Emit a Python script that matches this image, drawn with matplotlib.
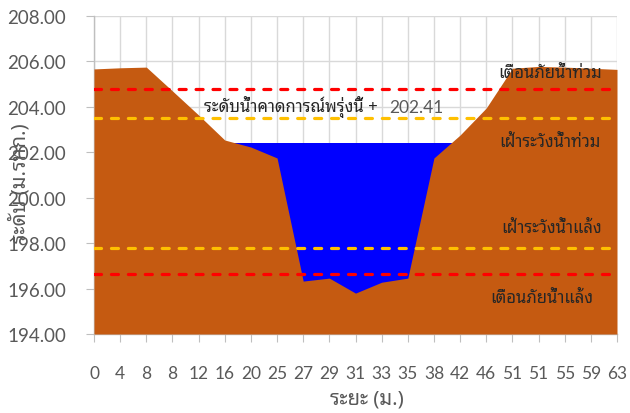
import matplotlib
matplotlib.use('Agg')
import matplotlib.pyplot as plt
import numpy as np

THAI = ['Noto Sans Thai Looped', 'Loma', 'DejaVu Sans']
NUM = ['Lato', 'DejaVu Sans']

# cross-section data (distance labels and ground elevation, m MSL)
distance_labels = ["0", "4", "8", "8", "12", "16", "20", "25", "27", "29", "31",
                   "33", "35", "38", "42", "46", "51", "51", "55", "59", "63"]
ground_level = [205.67, 205.72, 205.75, 204.70, 203.64, 202.54, 202.23, 201.75,
                196.33, 196.46, 195.80, 196.28, 196.46, 201.75, 202.76, 203.95,
                205.70, 205.78, 205.75, 205.70, 205.65]
forecast_level = 202.41

flood_warning = 204.80
flood_watch = 203.52
drought_watch = 197.80
drought_warning = 196.63

x = np.arange(len(distance_labels))

W, H = 630, 414
fig, ax = plt.subplots(figsize=(6.3, 4.14), dpi=100)
fig.subplots_adjust(left=94/W, right=617/W, top=1-17/H, bottom=1-335/H)

ax.fill_between(x, 194, forecast_level, color="#0000FF", lw=0, zorder=2)
ax.fill_between(x, 194, ground_level, color="#C55A11", lw=0, zorder=3)

dash = dict(lw=2.3, dashes=(2.2, 3.1), dash_capstyle='round', zorder=4)
ax.plot([x[0], x[-1]], [flood_warning] * 2, color="#FF0000", **dash)
ax.plot([x[0], x[-1]], [flood_watch] * 2, color="#FFC000", **dash)
ax.plot([x[0], x[-1]], [drought_watch] * 2, color="#FFC000", **dash)
ax.plot([x[0], x[-1]], [drought_warning] * 2, color="#FF0000", **dash)

tcol = "#262626"
ax.text(17.44, 205.50, "เตือนภัยน้ำท่วม", ha='center', va='center', fontsize=12,
        color=tcol, family=THAI, zorder=5)
ax.text(17.44, 202.45, "เฝ้าระวังน้ำท่วม", ha='center', va='center', fontsize=12,
        color=tcol, family=THAI, zorder=5)
ax.text(17.5, 198.66, "เฝ้าระวังน้ำแล้ง", ha='center', va='center', fontsize=12,
        color=tcol, family=THAI, zorder=5)
ax.text(17.13, 195.58, "เตือนภัยน้ำแล้ง", ha='center', va='center', fontsize=12,
        color=tcol, family=THAI, zorder=5)
ax.text(4.2, 204.05, "ระดับน้ำคาดการณ์พรุ่งนี้ + ", ha='left', va='center', fontsize=12,
        color=tcol, family=THAI, zorder=5)
ax.text(11.3, 203.98, f"{forecast_level:.2f}", ha='left', va='center', fontsize=12.5,
        color="#595959", family=NUM, zorder=5)

ax.set_xlim(0, len(x) - 1)
ax.set_ylim(194, 208)
ax.set_xticks(x)
ax.set_xticklabels(distance_labels, family=NUM, fontsize=12.5, color="#595959")
yt = np.arange(194, 209, 2)
ax.set_yticks(yt)
ax.set_yticklabels([f"{v:.2f}" for v in yt], family=NUM, fontsize=13.5, color="#595959")
ax.tick_params(axis='both', length=6, width=0.8, color="#BFBFBF")
ax.tick_params(axis='x', pad=16)
ax.tick_params(axis='y', pad=14)

ax.grid(True, color="#D9D9D9", lw=1.0, zorder=0)
ax.set_axisbelow(True)
for s in ['top', 'right']:
    ax.spines[s].set_visible(False)
for s in ['left', 'bottom']:
    ax.spines[s].set_color("#BFBFBF")
    ax.spines[s].set_linewidth(1.0)

fig.text(367/W, 1-400/H, "ระยะ (ม.)", family=THAI, fontsize=14.5, fontweight='bold',
         color="#595959", ha='center', va='center')
fig.text(20/W, 1-183/H, "ระดับ (ม.รทก.)", family=THAI, fontsize=14.5, fontweight='bold',
         color="#595959", ha='center', va='center', rotation=90, zorder=6)

fig.savefig("out.png", dpi=100)
